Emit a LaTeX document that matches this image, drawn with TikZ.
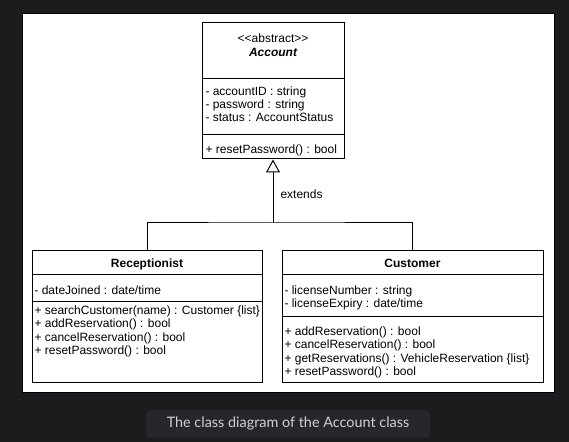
\documentclass[tikz,border=0pt]{standalone}
\usepackage{fontspec}
\setmainfont{Liberation Sans}
\newfontfamily\capfont{Lato}
\usetikzlibrary{arrows.meta,fit}

\definecolor{pagedark}{HTML}{1B1C1E}
\definecolor{capfill}{HTML}{26272B}
\definecolor{captext}{HTML}{D0D1D3}

\tikzset{every picture/.style={line width=0.75pt}}
\tikzset{
	classbox/.style={draw=black, inner sep=0pt},
	member/.style={anchor=base west, inner sep=0pt, font=\fontsize{9}{10}\selectfont},
	classname/.style={anchor=base, inner sep=0pt, font=\fontsize{9}{10}\selectfont\bfseries},
	extendsarrow/.style={-{Triangle[open,length=9.75pt,width=10.5pt]}}
}

\begin{document}
\begin{tikzpicture}[x=0.75pt,y=0.75pt,yscale=-1,xscale=1]
	\fill[pagedark] (0,0) rectangle (569,442);
	\useasboundingbox (0,0) rectangle (569,442);

	%Shape: white panel
	\draw[fill=white, draw=black] (22,14) rectangle (554,393);

	%Shape: class Account
	\node[classbox, fit={(202,23) (344,159)}] (account) {};
	\draw (202,79) -- (344,79);
	\draw (202,135) -- (344,135);
	% Text Node
	\node[classname, font=\fontsize{9}{10}\selectfont] (accStereo) at (273,42.5) {<{}<abstract>{}>};
	\node[classname, font=\fontsize{9}{10}\selectfont\bfseries\itshape] (accName) at (273,56.5) {Account};
	\node[member] (accAttrA) at (205,96) {- accountID : string};
	\node[member] (accAttrB) at (205,109) {- password : string};
	\node[member] (accAttrC) at (205,122) {- status : AccountStatus};
	\node[member] (accOpA) at (205,153.5) {+ resetPassword() : bool};

	%Shape: class Receptionist
	\node[classbox, fit={(32,251) (262,383)}] (recep) {};
	\draw (32,275) -- (262,275);
	\draw (32,302) -- (262,302);
	% Text Node
	\node[classname] (recName) at (147,267.5) {Receptionist};
	\node[member] (recAttrA) at (34,294.5) {- dateJoined : date/time};
	\node[member] (recOpA) at (34,315) {+ searchCustomer(name) : Customer \{list\}};
	\node[member] (recOpB) at (34,328) {+ addReservation() : bool};
	\node[member] (recOpC) at (34,341.5) {+ cancelReservation() : bool};
	\node[member] (recOpD) at (34,355) {+ resetPassword() : bool};

	%Shape: class Customer
	\node[classbox, fit={(282,251) (543,383)}] (cust) {};
	\draw (282,275) -- (543,275);
	\draw (282,317) -- (543,317);
	% Text Node
	\node[classname] (custName) at (412.5,267.5) {Customer};
	\node[member] (custAttrA) at (284,294.5) {- licenseNumber : string};
	\node[member] (custAttrB) at (284,307.5) {- licenseExpiry : date/time};
	\node[member] (custOpA) at (284,336) {+ addReservation() : bool};
	\node[member] (custOpB) at (284,349) {+ cancelReservation() : bool};
	\node[member] (custOpC) at (284,362.5) {+ getReservations() : VehicleReservation \{list\}};
	\node[member] (custOpD) at (284,376) {+ resetPassword() : bool};

	%Connectors: generalization
	\coordinate (split) at (273,223);
	\draw (recep.north) |- (split) -| (cust.north);
	\draw[extendsarrow] (split) -- (account.south);
	% Text Node
	\node[member] (extLabel) at (280,199) {extends};

	%Shape: caption
	\draw[fill=capfill, draw=none, rounded corners=3] (146,410) rectangle (430,438);
	\node[text=captext, font=\capfont\fontsize{10.8}{12}\selectfont] (caption) at (288,424) {The class diagram of the Account class};

\end{tikzpicture}
\end{document}
